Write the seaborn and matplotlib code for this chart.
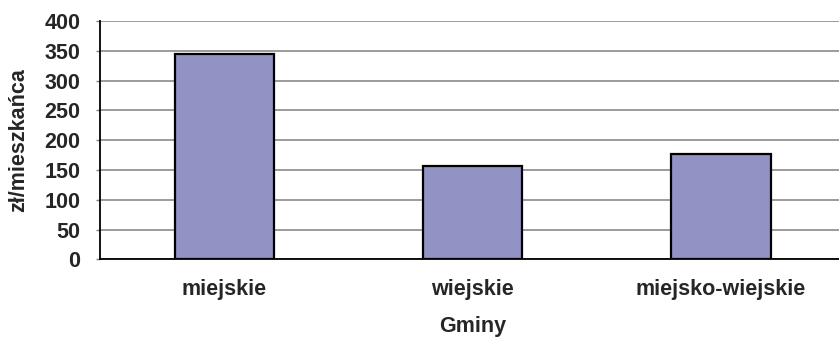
import matplotlib
matplotlib.use("Agg")
import matplotlib.pyplot as plt
import seaborn as sns
import pandas as pd

gminy = ["miejskie", "wiejskie", "miejsko-wiejskie"]
wartosci = [345, 157, 176]
yticks = [0, 50, 100, 150, 200, 250, 300, 350, 400]

df = pd.DataFrame({"Gminy": gminy, "zl": wartosci})

sns.set_style("white")
plt.rcParams["font.family"] = ["Liberation Sans", "DejaVu Sans"]
plt.rcParams["font.weight"] = "bold"

fig = plt.figure(figsize=(8.39, 3.37), dpi=100)
ax = fig.add_axes([100 / 839, (337 - 259.3) / 337, 745 / 839, (259.3 - 21) / 337])

for t in yticks:
    ax.axhline(t, color="#808080", lw=1.1, zorder=0)

sns.barplot(data=df, x="Gminy", y="zl", ax=ax, color="#9292C4", width=0.4,
            edgecolor="black", linewidth=1.6, saturation=1, zorder=2)

fs = 15.5
ax.set_ylim(0, 400)
ax.set_xlim(-0.5, 2.5)
ax.set_yticks(yticks)
ax.set_yticklabels([str(t) for t in yticks], fontsize=fs, fontweight="bold")
ax.set_xticks(range(len(gminy)))
ax.set_xticklabels(gminy, fontsize=fs, fontweight="bold")
ax.tick_params(axis="y", length=3, color="#808080", width=1, pad=11, left=True)
ax.tick_params(axis="x", length=0, pad=14)

ax.set_xlabel("Gminy", fontsize=fs, fontweight="bold", labelpad=12)
ax.set_ylabel("zł/mieszkańca", fontsize=fs, fontweight="bold", labelpad=11)

for s in ["top", "right"]:
    ax.spines[s].set_visible(False)
for s in ["left", "bottom"]:
    ax.spines[s].set_color("black")
    ax.spines[s].set_linewidth(1.3)
    ax.spines[s].set_zorder(3)

fig.savefig("out.png", dpi=100)
